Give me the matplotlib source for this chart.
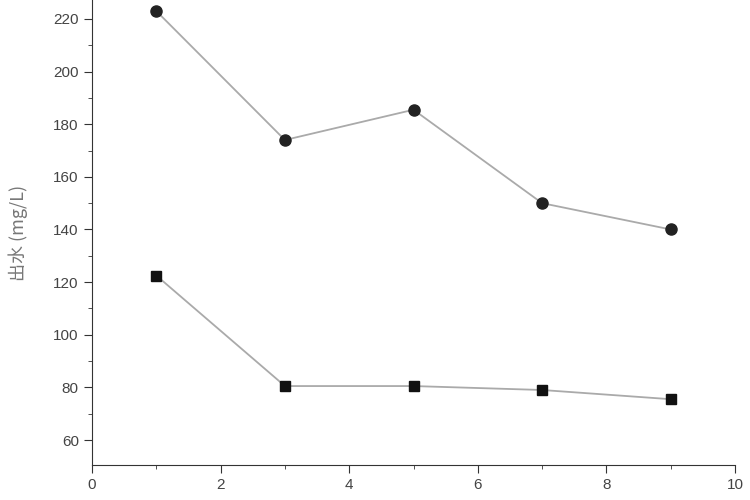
import matplotlib
matplotlib.use("Agg")
import matplotlib.pyplot as plt
from matplotlib.ticker import MultipleLocator

plt.rcParams['font.family'] = ['Liberation Sans', 'Noto Sans CJK SC', 'DejaVu Sans']

x = [1, 3, 5, 7, 9]
circle_vals = [223, 174, 185.5, 150, 140]
square_vals = [122.5, 80.5, 80.5, 79, 75.5]

fig = plt.figure(figsize=(7.5, 5), dpi=100)
ax = fig.add_axes([0.1227, 0.07, 0.8573, 0.93])
ax.plot(x, circle_vals, color='#aaaaaa', lw=1.3, marker='o', ms=8, mfc='#222222', mec='#222222', zorder=3)
ax.plot(x, square_vals, color='#aaaaaa', lw=1.3, marker='s', ms=7, mfc='#111111', mec='#111111', zorder=3)
ax.set_xlim(0, 10)
ax.set_ylim(50.5, 227.2)
ax.xaxis.set_major_locator(MultipleLocator(2))
ax.xaxis.set_minor_locator(MultipleLocator(1))
ax.yaxis.set_major_locator(MultipleLocator(20))
ax.yaxis.set_minor_locator(MultipleLocator(10))
for s in ['top', 'right']:
    ax.spines[s].set_visible(False)
for s in ['left', 'bottom']:
    ax.spines[s].set_color('#333333')
ax.tick_params(which='major', direction='out', length=6, colors='#333333', labelsize=11, labelcolor='#444444')
ax.tick_params(which='minor', direction='out', length=3, colors='#333333')
ax.set_ylabel('出水 (mg/L)', fontsize=13, color='#777777',
              family=['Noto Sans CJK SC', 'DejaVu Sans'])
ax.yaxis.set_label_coords(-0.1, 0.5)
fig.savefig('out.png', dpi=100)
